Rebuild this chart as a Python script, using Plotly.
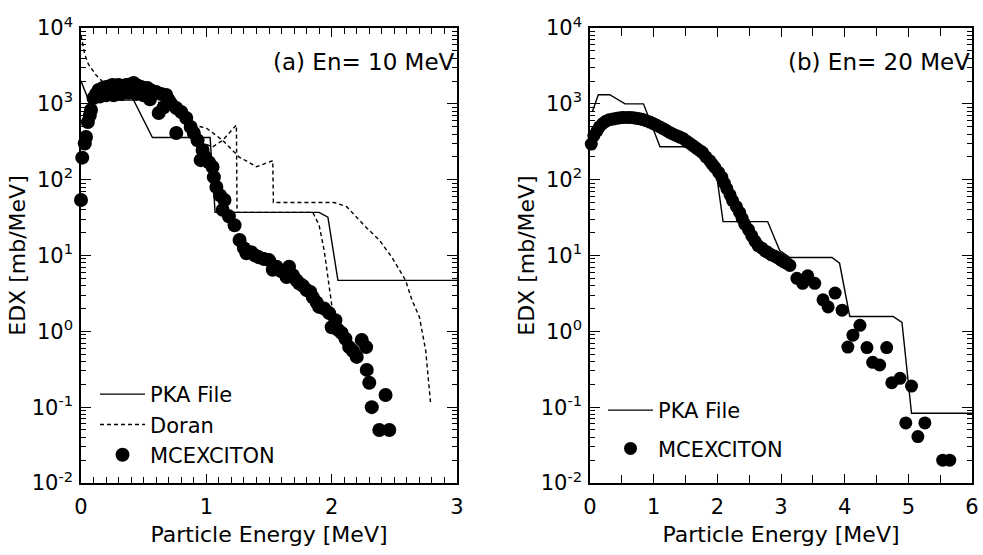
import plotly.graph_objects as go

# ---------------- Panel (a): En = 10 MeV ----------------
pka_a_x = [0.0, 0.06, 0.42, 0.57, 1.03, 1.07, 1.90, 1.97, 2.05, 3.0]
pka_a_y = [2000, 1120, 1120, 360, 360, 37, 37, 32, 4.7, 4.7]

doran_a_x = [0.0, 0.03, 0.06, 0.12, 0.18, 0.30, 0.50, 0.70, 0.84, 0.89, 1.00, 1.13, 1.26,
             1.40, 1.53, 1.535, 2.02, 2.12, 2.28, 2.38, 2.48, 2.59, 2.64, 2.70, 2.75, 2.79]
doran_a_y = [8000, 4500, 3300, 2400, 1900, 1600, 1300, 900, 560, 525, 480, 330, 200,
             148, 178, 50, 50, 44, 23, 16, 9.5, 4.7, 2.6, 1.55, 0.56, 0.11]

doran2_a_x = [0.80, 0.95, 1.05, 1.13, 1.24, 1.245, 1.85, 1.90, 1.94, 2.00, 2.03]
doran2_a_y = [600, 316, 270, 330, 525, 37, 37, 25, 11.7, 2.1, 1.0]

mc_a_x = [0.00, 0.01, 0.03, 0.04, 0.055, 0.07, 0.08, 0.10, 0.12, 0.14, 0.17, 0.20, 0.23,
          0.25, 0.28, 0.30, 0.33, 0.36, 0.39, 0.42, 0.45, 0.48, 0.50, 0.53, 0.56, 0.60,
          0.64, 0.68, 0.70, 0.72, 0.76, 0.80, 0.84, 0.875, 0.90, 0.93, 0.97,
          0.15, 0.20, 0.26, 0.32, 0.38, 0.44, 0.50, 0.55, 0.62, 0.66, 0.76,
          0.955, 0.99, 1.02, 1.05, 1.06, 1.08, 1.11, 1.13, 1.145, 1.18, 1.225, 1.265,
          1.30, 1.32, 1.36, 1.39, 1.42, 1.46, 1.50, 1.53, 1.56, 1.60, 1.64, 1.66,
          1.69, 1.72, 1.74, 1.77, 1.80, 1.83, 1.85, 1.88, 1.90, 1.94, 1.98, 2.00,
          2.03, 2.05, 2.08, 2.11, 2.14, 2.17, 2.20, 2.24, 2.275, 2.28, 2.30, 2.32,
          2.43, 2.38, 2.46]
mc_a_y = [54, 195, 300, 365, 575, 700, 830, 1190, 1350, 1520, 1600, 1670, 1700,
          1770, 1750, 1770, 1720, 1770, 1800, 1880, 1750, 1670, 1600, 1620, 1500, 1430,
          1350, 1310, 1120, 1000, 880, 780, 650, 494, 412, 330, 246,
          1250, 1300, 1300, 1350, 1400, 1350, 1300, 1150, 757, 900, 412,
          181, 200, 170, 147, 108, 80, 62, 40, 54, 33, 25, 16,
          12.5, 10.7, 11, 10, 9.5, 9.0, 8.7, 6.5, 7.1, 6.2, 5.2, 7.1,
          5.5, 4.7, 4.3, 4.0, 3.5, 3.3, 2.8, 2.4, 2.1, 2.0, 1.74, 1.13,
          1.4, 1.05, 0.95, 0.8, 0.62, 0.55, 0.46, 0.77, 0.62, 0.31, 0.21, 0.10,
          0.145, 0.05, 0.05]

# ---------------- Panel (b): En = 20 MeV ----------------
pka_b_x = [0.04, 0.13, 0.31, 0.55, 0.84, 1.10, 1.80, 1.84, 2.00, 2.09, 2.79, 2.98,
           3.14, 3.80, 3.92, 4.03, 4.08, 4.76, 4.90, 5.05, 6.0]
pka_b_y = [800, 1320, 1320, 1000, 1000, 272, 272, 250, 98, 28, 28, 11.6,
           9.4, 9.4, 7.9, 2.6, 1.57, 1.57, 1.31, 0.083, 0.083]

mc_b_x = [0.02, 0.06, 0.11, 0.15, 0.20, 0.25, 0.30, 0.36, 0.42, 0.47, 0.52, 0.58, 0.63,
          0.68, 0.73, 0.78, 0.83, 0.88, 0.94, 0.99, 1.04, 1.10, 1.15, 1.20, 1.25, 1.30,
          1.36, 1.41, 1.46, 1.52, 1.57, 1.62, 1.67, 1.72, 1.77, 1.82, 1.88, 1.92, 1.96,
          2.02, 2.07, 2.11, 2.15, 2.20, 2.24, 2.30, 2.35, 2.39, 2.43, 2.49, 2.54, 2.59,
          2.64, 2.70, 2.75, 2.79, 2.85, 2.90, 2.95, 3.00, 3.05, 3.10, 3.14,
          3.25, 3.34, 3.42, 3.53, 3.66, 3.74, 3.85, 3.96, 4.05, 4.13, 4.24, 4.35,
          4.44, 4.55, 4.66, 4.74, 4.87, 5.05, 4.96, 5.26, 5.15, 5.54, 5.65]
mc_b_y = [295, 380, 440, 500, 550, 590, 615, 630, 645, 655, 660, 660, 660,
          655, 645, 635, 620, 600, 575, 550, 525, 495, 470, 445, 420, 400,
          380, 365, 350, 320, 300, 280, 260, 243, 226, 200, 178, 160, 145,
          125, 108, 90, 76, 63, 53, 44, 37, 31, 26, 22, 18.3, 15.5,
          13.5, 12.5, 11.5, 11, 10.2, 9.8, 9.3, 8.7, 8.2, 7.8, 7.4,
          5.0, 4.3, 5.4, 4.3, 2.6, 2.1, 3.2, 1.9, 0.62, 0.89, 1.2, 0.61,
          0.39, 0.36, 0.61, 0.21, 0.24, 0.19, 0.062, 0.062, 0.041, 0.020, 0.020]

ytick_vals = [1e-2, 1e-1, 1e0, 1e1, 1e2, 1e3, 1e4]
ytick_text = ["10<sup>-2</sup>", "10<sup>-1</sup>", "10<sup>0</sup>", "10<sup>1</sup>",
              "10<sup>2</sup>", "10<sup>3</sup>", "10<sup>4</sup>"]
ytick_minor = [k * 10.0 ** e for e in range(-2, 4) for k in range(2, 10)]

FONT = "DejaVu Sans, Liberation Sans, Arial, sans-serif"
black = "black"

fig = go.Figure()
line_w = 1.4
dash = "4px,3px"

fig.add_trace(go.Scatter(x=pka_a_x, y=pka_a_y, mode="lines", name="PKA File",
                         line=dict(color=black, width=line_w), xaxis="x", yaxis="y",
                         legend="legend"))
fig.add_trace(go.Scatter(x=doran_a_x, y=doran_a_y, mode="lines", name="Doran",
                         line=dict(color=black, width=line_w, dash=dash), xaxis="x", yaxis="y",
                         legend="legend"))
fig.add_trace(go.Scatter(x=doran2_a_x, y=doran2_a_y, mode="lines", name="Doran",
                         line=dict(color=black, width=line_w, dash=dash), xaxis="x", yaxis="y",
                         showlegend=False))
fig.add_trace(go.Scatter(x=mc_a_x, y=mc_a_y, mode="markers", name="MCEXCITON",
                         marker=dict(color=black, size=14), xaxis="x", yaxis="y",
                         cliponaxis=False, legend="legend"))

fig.add_trace(go.Scatter(x=pka_b_x, y=pka_b_y, mode="lines", name="PKA File",
                         line=dict(color=black, width=line_w), xaxis="x2", yaxis="y2",
                         legend="legend2", legendgroup="p"))
fig.add_trace(go.Scatter(x=mc_b_x, y=mc_b_y, mode="markers", name="MCEXCITON",
                         marker=dict(color=black, size=13), xaxis="x2", yaxis="y2",
                         cliponaxis=False, legend="legend2", legendgroup="m"))

ydom = [1 - 483 / 555, 1 - 28 / 555]
common_x = dict(showgrid=False, zeroline=False, showline=True, linecolor=black, linewidth=1.5,
                mirror="allticks", ticks="inside", ticklen=9, tickwidth=1.2, tickcolor=black,
                automargin=False, ticklabelstandoff=4,
                tickfont=dict(size=21, color=black, family=FONT),
                title=dict(text="Particle Energy [MeV]", font=dict(size=22, color=black, family=FONT),
                           standoff=9))
common_y = dict(type="log", range=[-2, 4], showgrid=False, zeroline=False, showline=True,
                linecolor=black, linewidth=1.5, mirror="allticks", ticks="inside", ticklen=10,
                tickwidth=1.2, tickcolor=black, tickmode="array", tickvals=ytick_vals,
                ticktext=ytick_text, tickfont=dict(size=21, color=black, family=FONT),
                automargin=False, ticklabelstandoff=2,
                minor=dict(tickmode="array", tickvals=ytick_minor, ticks="inside", ticklen=5,
                           tickwidth=1, tickcolor=black),
                title=dict(text="EDX [mb/MeV]", font=dict(size=22, color=black, family=FONT),
                           standoff=0),
                domain=ydom)

fig.update_layout(
    template="none",
    width=983, height=555, margin=dict(l=0, r=0, t=0, b=0, autoexpand=False),
    paper_bgcolor="white", plot_bgcolor="white",
    font=dict(family=FONT, color=black),
    xaxis=dict(common_x, domain=[81 / 983, 457 / 983], range=[0, 3], tickmode="array",
               tickvals=[0, 1, 2, 3], anchor="y",
               minor=dict(dtick=0.1, tick0=0, ticks="inside", ticklen=6, tickwidth=1,
                          tickcolor=black)),
    yaxis=dict(common_y, anchor="x"),
    xaxis2=dict(common_x, domain=[590 / 983, 972 / 983], range=[0, 6], tickmode="array",
                tickvals=[0, 1, 2, 3, 4, 5, 6], anchor="y2",
                minor=dict(dtick=0.5, tick0=0, ticks="inside", ticklen=8, tickwidth=1.2,
                           tickcolor=black)),
    yaxis2=dict(common_y, anchor="x2"),
    legend=dict(x=95 / 983, y=1 - 374 / 555, xanchor="left", yanchor="top",
                bgcolor="rgba(0,0,0,0)", font=dict(size=21, color=black, family=FONT),
                tracegroupgap=0, itemwidth=45),
    legend2=dict(x=603 / 983, y=1 - 390 / 555, xanchor="left", yanchor="top",
                 bgcolor="rgba(0,0,0,0)", font=dict(size=21, color=black, family=FONT),
                 tracegroupgap=8, itemwidth=45),
    showlegend=True,
    annotations=[
        dict(text="(a) En= 10 MeV", xref="x domain", yref="y domain", x=1.0, y=0.925,
             xanchor="right", yanchor="middle", showarrow=False,
             font=dict(size=23, color=black, family=FONT)),
        dict(text="(b) En= 20 MeV", xref="x2 domain", yref="y2 domain", x=1.0, y=0.925,
             xanchor="right", yanchor="middle", showarrow=False,
             font=dict(size=23, color=black, family=FONT)),
    ],
)

fig.write_html("out.html")
